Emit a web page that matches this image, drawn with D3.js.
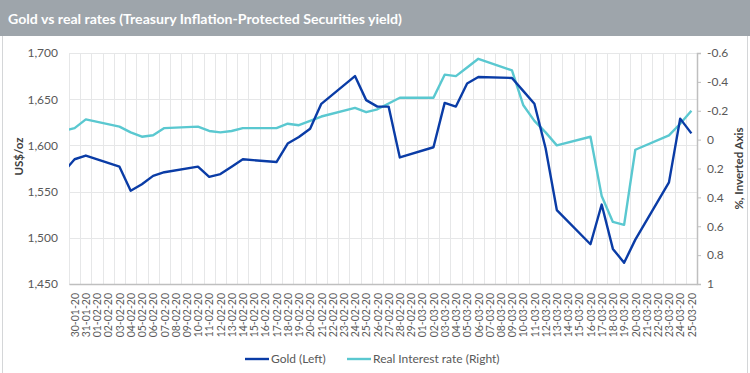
<!DOCTYPE html>
<html>
<head>
<meta charset="utf-8">
<script src="https://cdn.jsdelivr.net/npm/d3@7"></script>
<style>
  body { margin: 0; background: #fff; }
  svg text { font-family: Lato, "Open Sans", sans-serif; }
</style>
</head>
<body>
<svg id="chart" width="750" height="373"></svg>
<script>
// every calendar day on the category axis
const dayLabels = [
  "30-01-20","31-01-20",
  "01-02-20","02-02-20","03-02-20","04-02-20","05-02-20","06-02-20","07-02-20","08-02-20","09-02-20","10-02-20",
  "11-02-20","12-02-20","13-02-20","14-02-20","15-02-20","16-02-20","17-02-20","18-02-20","19-02-20","20-02-20",
  "21-02-20","22-02-20","23-02-20","24-02-20","25-02-20","26-02-20","27-02-20","28-02-20","29-02-20",
  "01-03-20","02-03-20","03-03-20","04-03-20","05-03-20","06-03-20","07-03-20","08-03-20","09-03-20","10-03-20",
  "11-03-20","12-03-20","13-03-20","14-03-20","15-03-20","16-03-20","17-03-20","18-03-20","19-03-20","20-03-20",
  "21-03-20","22-03-20","23-03-20","24-03-20","25-03-20"
];

// trading days (first one sits just left of the axis and gets clipped)
const obsDates = [
  "29-01-20","30-01-20","31-01-20","03-02-20","04-02-20","05-02-20","06-02-20","07-02-20",
  "10-02-20","11-02-20","12-02-20","13-02-20","14-02-20","17-02-20","18-02-20","19-02-20","20-02-20","21-02-20",
  "24-02-20","25-02-20","26-02-20","27-02-20","28-02-20","02-03-20","03-03-20","04-03-20","05-03-20","06-03-20",
  "09-03-20","10-03-20","11-03-20","12-03-20","13-03-20","16-03-20","17-03-20","18-03-20","19-03-20","20-03-20",
  "23-03-20","24-03-20","25-03-20"
];
const goldPrice = [
  1571, 1585, 1589, 1577, 1551, 1558, 1567, 1571,
  1577, 1566, 1569, 1577, 1585, 1582, 1602, 1609, 1618, 1645,
  1675, 1649, 1642, 1642, 1587, 1598, 1646, 1642, 1667, 1674,
  1673, 1659, 1645, 1597, 1530, 1493, 1536, 1488, 1473, 1498,
  1560, 1629, 1613
];
const realRate = [
  -0.06, -0.08, -0.14, -0.09, -0.05, -0.02, -0.03, -0.08,
  -0.09, -0.06, -0.05, -0.06, -0.08, -0.08, -0.11, -0.10, -0.13, -0.16,
  -0.22, -0.19, -0.21, -0.25, -0.29, -0.29, -0.45, -0.44, -0.50, -0.56,
  -0.48, -0.24, -0.13, -0.05, 0.04, -0.02, 0.39, 0.57, 0.59, 0.07,
  -0.03, -0.11, -0.20
];
const leftTicks = [1450, 1500, 1550, 1600, 1650, 1700];
const rightTicks = [-0.6, -0.4, -0.2, 0, 0.2, 0.4, 0.6, 0.8, 1];

const title = "Gold vs real rates (Treasury Inflation-Protected Securities yield)";
const seriesNames = ["Gold (Left)", "Real Interest rate (Right)"];
const colors = ["#0a3ca6", "#5ac8d0"];

const svg = d3.select("#chart");
const W = 750, H = 373;
const plot = { left: 69, right: 697, top: 53, bottom: 284 };

const parse = d3.utcParse("%d-%m-%y");
const days = dayLabels.map(parse);
const mid = d => d3.utcHour.offset(d, 12);

const x = d3.scaleUtc()
  .domain([days[0], d3.utcDay.offset(days[days.length - 1], 1)])
  .range([plot.left, plot.right]);
const yL = d3.scaleLinear().domain([1450, 1700]).range([plot.bottom, plot.top]);
const yR = d3.scaleLinear().domain([-0.6, 1]).range([plot.top, plot.bottom]);

// frame + title bar
svg.append("rect").attr("x", 2.5).attr("y", 30).attr("width", W - 5).attr("height", H)
  .attr("fill", "#fff").attr("stroke", "#d4d6d8");
svg.append("rect").attr("x", 0).attr("y", 0).attr("width", W).attr("height", 36)
  .attr("fill", "#9ea5ab");
svg.append("text").attr("x", 8).attr("y", 24)
  .attr("fill", "#fff").attr("font-size", 13.5).attr("font-weight", 700)
  .attr("textLength", 394).attr("lengthAdjust", "spacingAndGlyphs")
  .text(title);

// gridlines
const grid = svg.append("g").attr("stroke", "#e6e7e8").attr("stroke-width", 1);
grid.selectAll("line.h").data(leftTicks).enter().append("line")
  .attr("x1", plot.left).attr("x2", plot.right)
  .attr("y1", d => Math.round(yL(d)) + 0.5).attr("y2", d => Math.round(yL(d)) + 0.5);
grid.selectAll("line.v").data(days.concat([d3.utcDay.offset(days[days.length - 1], 1)])).enter().append("line")
  .attr("x1", d => Math.round(x(d)) + 0.5).attr("x2", d => Math.round(x(d)) + 0.5)
  .attr("y1", plot.top).attr("y2", plot.bottom);

// x axis
const xAxis = svg.append("g").attr("transform", `translate(0,${plot.bottom})`)
  .call(d3.axisBottom(x).tickValues(days.map(mid)).tickSize(0)
    .tickFormat((d, i) => dayLabels[i]));
xAxis.select(".domain").attr("stroke", "#bfbfbf").attr("stroke-width", 1.5);
xAxis.selectAll("text")
  .attr("font-size", 10.5).attr("fill", "#595959")
  .attr("text-anchor", "end").attr("dy", "0.35em")
  .attr("transform", `translate(0,9) rotate(-90)`)
  .attr("x", 0).attr("y", 0);

// left axis
const lAxis = svg.append("g").attr("transform", `translate(${plot.left},0)`)
  .call(d3.axisLeft(yL).tickValues(leftTicks).tickSize(0).tickPadding(11).tickFormat(d3.format(",")));
lAxis.select(".domain").remove();
lAxis.selectAll("text").attr("font-size", 12).attr("fill", "#595959");

// right axis (inverted)
const rAxis = svg.append("g").attr("transform", `translate(${plot.right},0)`)
  .call(d3.axisRight(yR).tickValues(rightTicks).tickSize(4).tickPadding(6)
    .tickFormat(d => String(+d.toFixed(1))));
rAxis.select(".domain").attr("stroke", "#bfbfbf").attr("stroke-width", 1.5);
rAxis.selectAll(".tick line").attr("stroke", "#bfbfbf");
rAxis.selectAll("text").attr("font-size", 12).attr("fill", "#595959");

// axis titles
svg.append("text").attr("transform", `translate(18,${(plot.top + plot.bottom) / 2 - 12}) rotate(-90)`)
  .attr("text-anchor", "middle").attr("dominant-baseline", "central")
  .attr("font-size", 11.5).attr("font-weight", 700).attr("fill", "#404040").text("US$/oz");
svg.append("text").attr("transform", `translate(738,${(plot.top + plot.bottom) / 2}) rotate(-90)`)
  .attr("text-anchor", "middle").attr("dominant-baseline", "central")
  .attr("font-size", 11.5).attr("font-weight", 700).attr("fill", "#404040").text("%, Inverted Axis");

// lines
svg.append("clipPath").attr("id", "plotclip").append("rect")
  .attr("x", plot.left).attr("y", plot.top - 5)
  .attr("width", plot.right - plot.left).attr("height", plot.bottom - plot.top + 10);

const obs = obsDates.map((d, i) => ({ date: mid(parse(d)), gold: goldPrice[i], rate: realRate[i] }));
const lines = svg.append("g").attr("clip-path", "url(#plotclip)");
lines.append("path").datum(obs)
  .attr("fill", "none").attr("stroke", colors[1]).attr("stroke-width", 2.4)
  .attr("stroke-linejoin", "round")
  .attr("d", d3.line().x(d => x(d.date)).y(d => yR(d.rate)));
lines.append("path").datum(obs)
  .attr("fill", "none").attr("stroke", colors[0]).attr("stroke-width", 2.4)
  .attr("stroke-linejoin", "round")
  .attr("d", d3.line().x(d => x(d.date)).y(d => yL(d.gold)));

// legend
const legend = svg.append("g").attr("transform", "translate(245,359)");
const legendX = [0, 102];
seriesNames.forEach((name, i) => {
  const g = legend.append("g").attr("transform", `translate(${legendX[i]},0)`);
  g.append("line").attr("x1", 0).attr("x2", 24).attr("stroke", colors[i]).attr("stroke-width", 2.4);
  g.append("text").attr("x", 26).attr("dy", "0.35em")
    .attr("font-size", 12).attr("fill", "#595959").text(name);
});
</script>
</body>
</html>
